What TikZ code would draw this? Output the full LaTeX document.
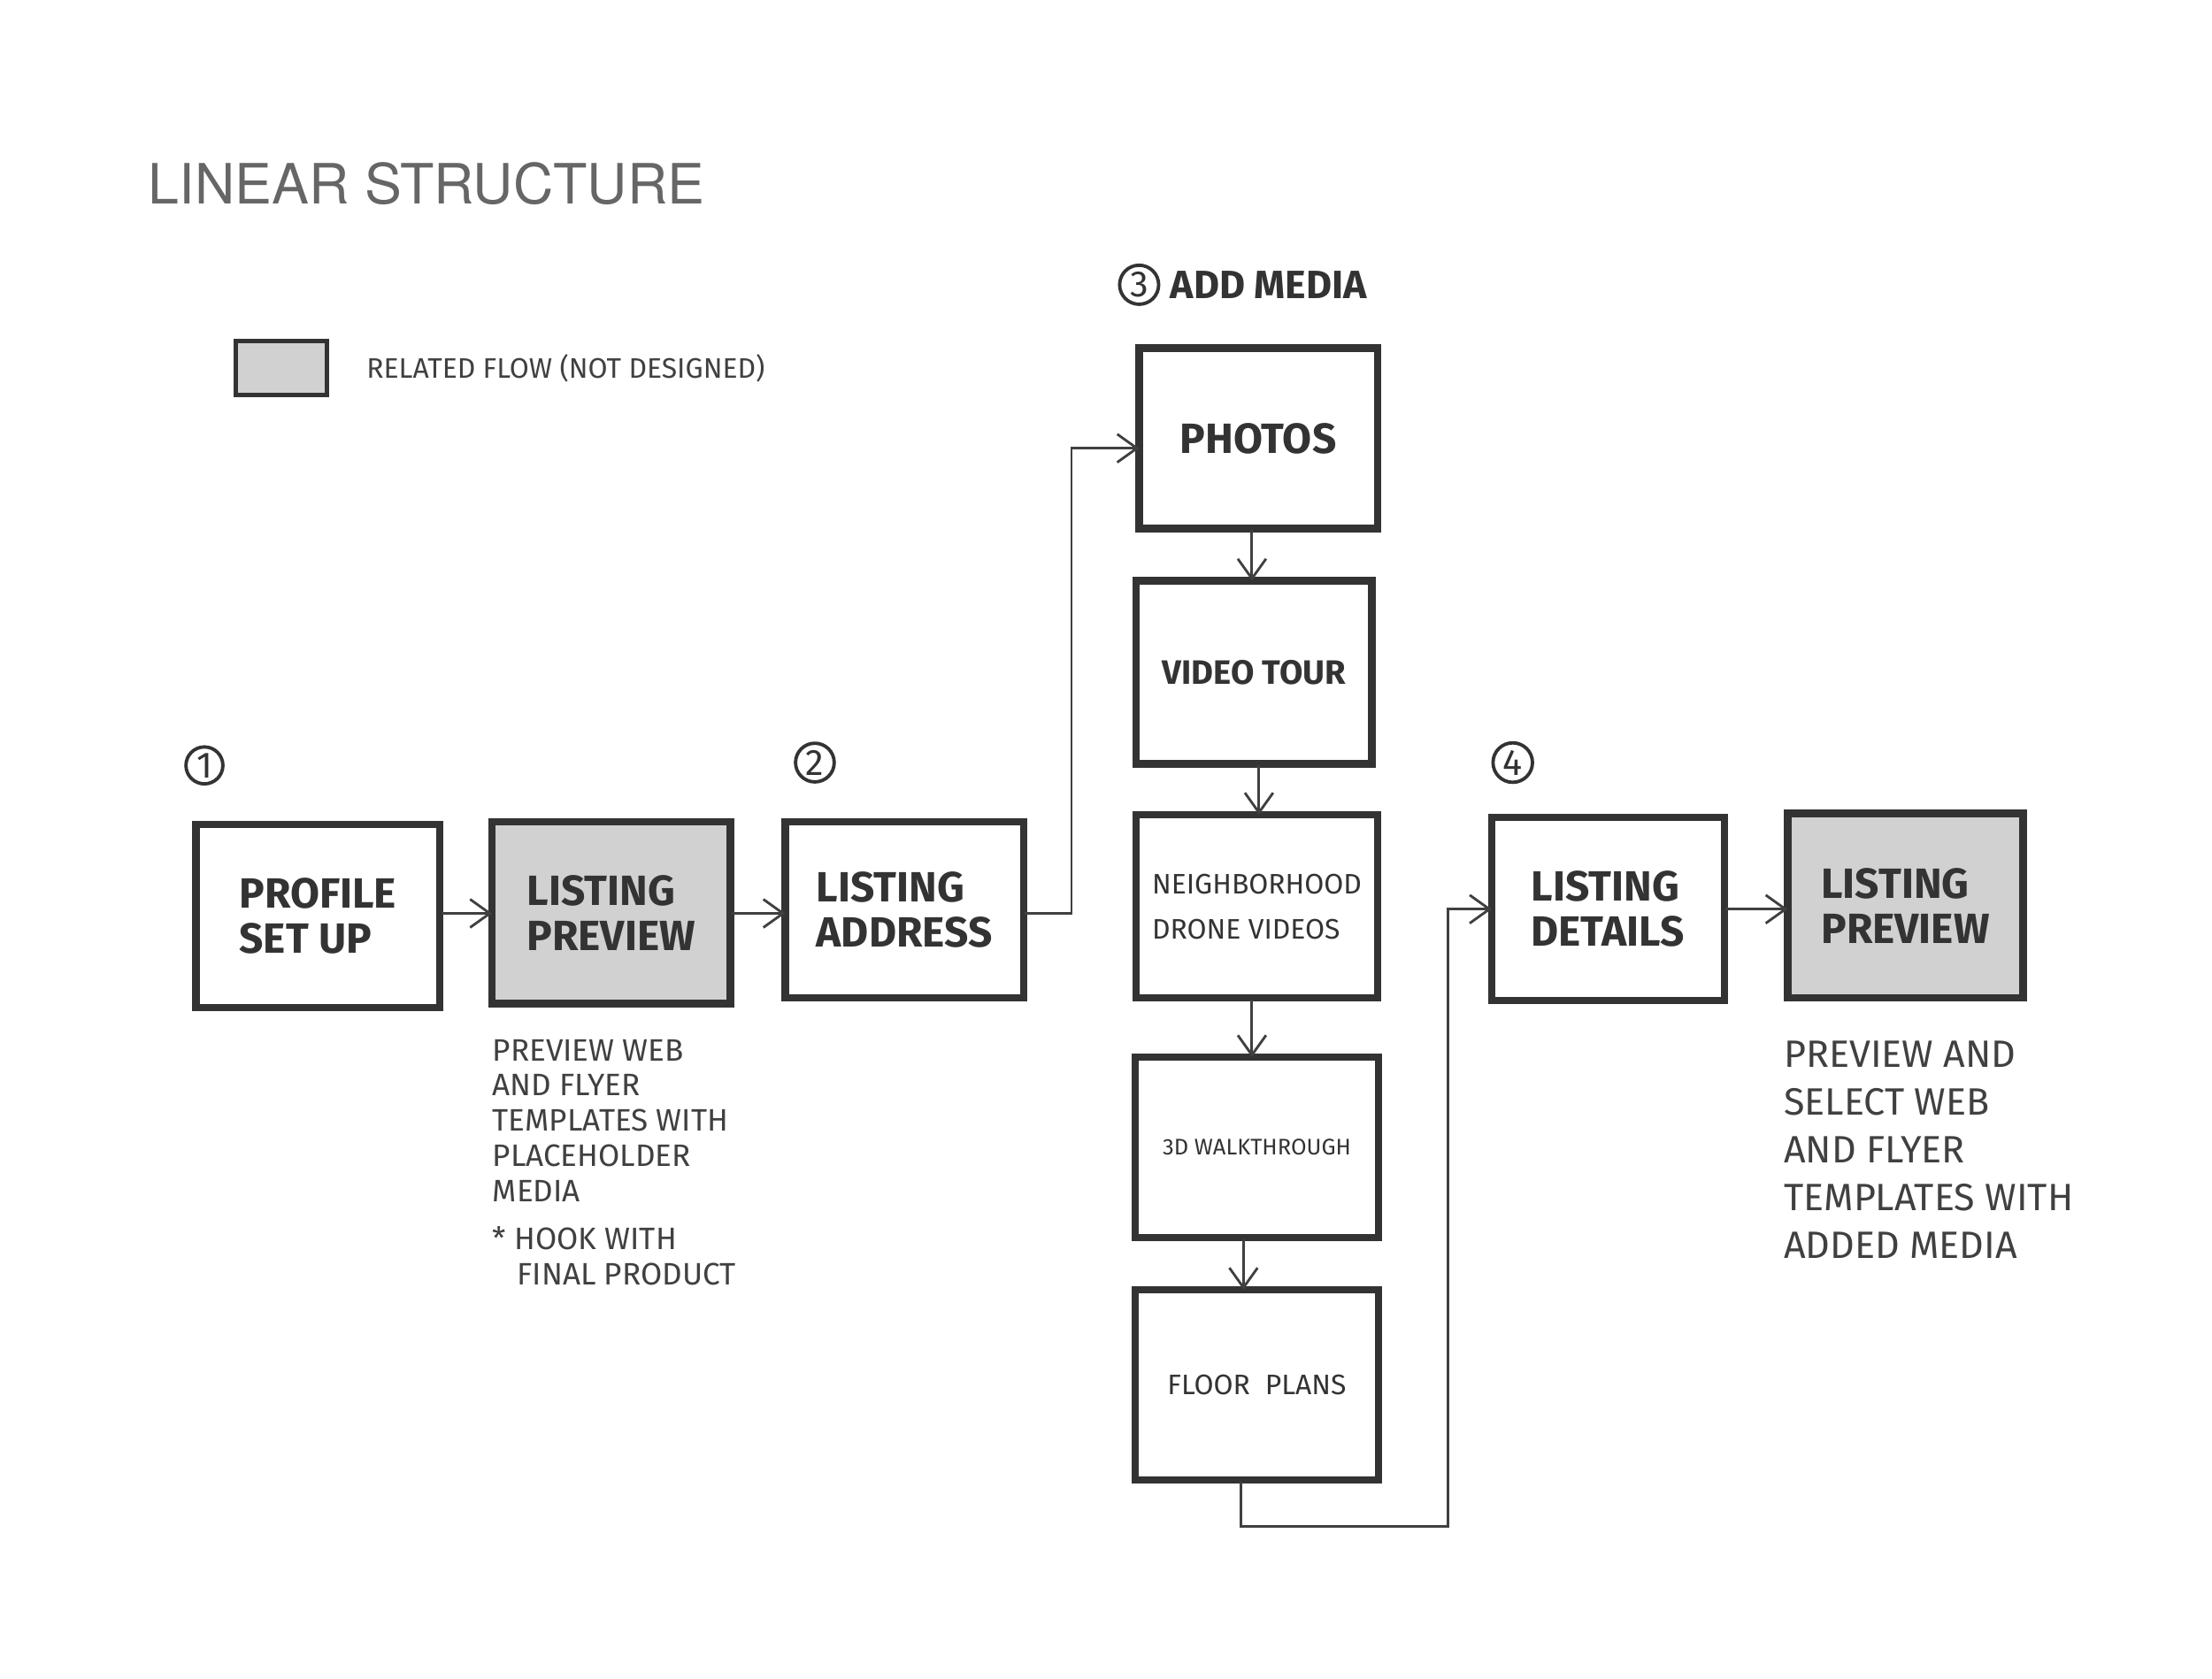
\documentclass[tikz,border=0pt]{standalone}
\usepackage{fontspec}
\setmainfont{Fira Sans}
\newfontfamily\titlef{TeX Gyre Heros}
\usetikzlibrary{arrows.meta}
\begin{document}
\begin{tikzpicture}[x=0.5pt,y=-0.5pt,
  box/.style={draw=black!80,line width=2.6pt,inner sep=0pt},
  gbox/.style={box,fill=black!18},
  lbl/.style={font=\fontsize{15}{16}\selectfont\bfseries,text=black!80,align=left},
  note/.style={font=\fontsize{11}{12.5}\selectfont,text=black!75,align=left,anchor=north west},
  num/.style={draw=black!80,circle,line width=1.2pt,inner sep=1pt,font=\fontsize{13}{13}\selectfont,text=black!80},
  arr/.style={draw=black!75,line width=0.9pt,-{Straight Barb[length=7pt,width=10pt]}},
  ln/.style={draw=black!75,line width=0.9pt}]
\useasboundingbox (0,0) rectangle (1569,1191);
\fill[white] (0,0) rectangle (1569,1191);
\node[anchor=west,inner sep=0pt,font=\titlef\fontsize{19.7}{20}\selectfont,text=black!60] (title) at (105,130) {LINEAR STRUCTURE};
\draw[gbox,line width=1.6pt] (167,242) rectangle (232,280) coordinate (lg);
\node[anchor=west,font=\fontsize{10}{11}\selectfont,text=black!75] (legend) at (253,261) {RELATED FLOW (NOT DESIGNED)};
% boxes
\draw[box] (139,585) rectangle (312,715);
\node[box,draw=none,minimum width=86.5pt,minimum height=65pt] (b1) at (225.5,650) {};
\node[lbl] at (b1) {PROFILE\\SET UP};
\draw[gbox] (349,583) rectangle (518,712);
\node[minimum width=84.5pt,minimum height=64.5pt,inner sep=0pt] (b2) at (433.5,647.5) {};
\node[lbl] at (b2) {LISTING\\PREVIEW};
\draw[box] (557,583) rectangle (726,708);
\node[minimum width=84.5pt,minimum height=62.5pt,inner sep=0pt] (b3) at (641.5,645.5) {};
\node[lbl] at (b3) {LISTING\\ADDRESS};
\draw[box] (808,247) rectangle (977,375);
\node[minimum width=84.5pt,minimum height=64pt,inner sep=0pt] (ph) at (892.5,311) {};
\node[lbl] at (ph) {PHOTOS};
\draw[box] (806,412) rectangle (973,542);
\node[minimum width=83.5pt,minimum height=65pt,inner sep=0pt] (vt) at (889.5,477) {};
\node[lbl,font=\fontsize{12}{13}\selectfont\bfseries] at (vt) {VIDEO TOUR};
\draw[box] (806,578) rectangle (977,708);
\node[minimum width=85.5pt,minimum height=65pt,inner sep=0pt] (nb) at (891.5,643) {};
\node[lbl,font=\fontsize{10}{16}\selectfont] at (nb) {NEIGHBORHOOD\\DRONE VIDEOS};
\draw[box] (805,750) rectangle (978,878);
\node[minimum width=86.5pt,minimum height=64pt,inner sep=0pt] (wt) at (891.5,814) {};
\node[lbl,font=\fontsize{8}{9}\selectfont] at (wt) {3D WALKTHROUGH};
\draw[box] (805,915) rectangle (978,1050);
\node[minimum width=86.5pt,minimum height=67.5pt,inner sep=0pt] (fp) at (891.5,982.5) {};
\node[lbl,font=\fontsize{10}{11}\selectfont] at (fp) {FLOOR\ \ PLANS};
\draw[box] (1058,580) rectangle (1223,710);
\node[minimum width=82.5pt,minimum height=65pt,inner sep=0pt] (ld) at (1140.5,645) {};
\node[lbl] at (ld) {LISTING\\DETAILS};
\draw[gbox] (1268,577) rectangle (1435,708);
\node[minimum width=83.5pt,minimum height=65.5pt,inner sep=0pt] (lp) at (1351.5,642.5) {};
\node[lbl] at (lp) {LISTING\\PREVIEW};
% numbers
\node[num] (n1) at (145,543) {1};
\node[num] (n2) at (578,541) {2};
\node[num] (n3) at (808,202) {3};
\node[anchor=west,font=\fontsize{14}{14}\selectfont\bfseries,text=black!80] (am) at (n3.east) {ADD MEDIA};
\node[num] (n4) at (1073,541) {4};
% connectors
\path[arr] (313,648) -- (349,648);
\path[arr] (519,648) -- (557,648);
\coordinate (c1) at (760,648);
\coordinate (c2) at (760,318);
\path[arr] (727,648) -- (c1) -- (c2) -- (808,318);
\path[arr] (888,376) -- (888,412);
\path[arr] (893,543) -- (893,578);
\path[arr] (888,709) -- (888,750);
\path[arr] (882,879) -- (882,915);
\coordinate (d1) at (880,1083);
\coordinate (d2) at (1027,1083);
\coordinate (d3) at (1027,645);
\path[arr] (880,1051) -- (d1) -- (d2) -- (d3) -- (1058,645);
\path[arr] (1224,645) -- (1268,645);
% notes
\node[note,inner sep=0pt] (t1) at (349,737) {PREVIEW WEB\\AND FLYER\\TEMPLATES WITH\\PLACEHOLDER\\MEDIA};
\node[note,inner sep=0pt] (t2) at (349,870) {* HOOK WITH\\\ \ \ FINAL PRODUCT};
\node[note,inner sep=0pt,font=\fontsize{13.5}{17}\selectfont] (t3) at (1265,738) {PREVIEW AND\\SELECT WEB\\AND FLYER\\TEMPLATES WITH\\ADDED MEDIA};
\end{tikzpicture}
\end{document}
